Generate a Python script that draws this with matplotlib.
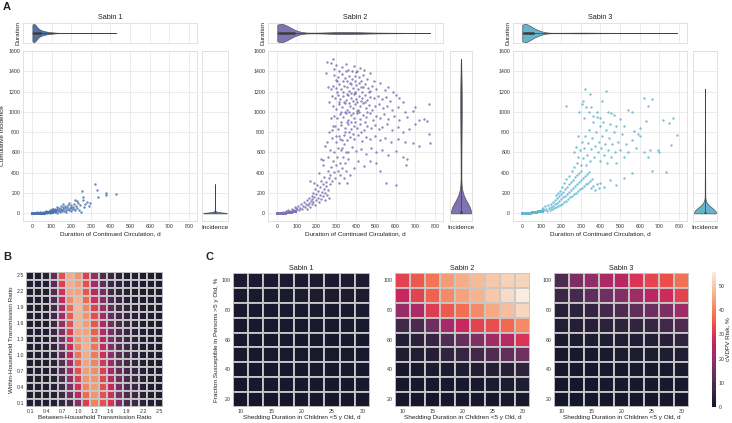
import numpy as np
import pandas as pd
import seaborn as sns
from matplotlib import pyplot as plt

# ---------------- data ----------------
# panel A: (duration d, cumulative incidence) for the runs that kept circulating
s1_pts = [(20,5),(25,10),(35,3),(40,12),(45,8),(55,15),(60,2),(65,12),(70,20),(75,6),(80,18),(85,25),
          (90,8),(95,20),(100,30),(105,10),(110,25),(115,35),(120,15),(125,30),(130,40),(130,8),(135,22),
          (140,35),(140,50),(145,15),(150,30),(150,45),(155,20),(160,40),(160,60),(165,28),(170,50),(175,18),
          (175,35),(180,65),(185,45),(190,30),(195,55),(200,80),(200,20),(205,40),(210,60),(215,95),(220,35),
          (220,130),(225,70),(230,50),(235,100),(240,30),(245,80),(250,10),(255,220),(258,160),(265,60),
          (270,90),(280,110),(290,75),(295,100),(320,288),(330,232),(335,160),(375,200),(378,178),(430,190),
          (160,95),(150,70),(130,60),(120,48),(110,45),(100,40),(90,35),(185,85),(190,100),(170,75),(200,65),
          (230,120),(212,45),(260,130)]
# dense clump near the origin: (duration, incidence, number of runs)
s1_core = [(3,0,240),(8,1,180),(15,1,140),(22,2,110),(30,3,90),(40,4,70),(50,5,56),(60,7,44),(70,9,32),
           (80,11,24),(90,13,18),(100,16,14),(110,19,10),(120,22,6)]

s2_pts = [(30,15),(45,25),(55,35),(65,20),(75,45),(85,30),(90,60),(95,50),(60,10),(40,5),
          # lower arm
          (100,40),(105,70),(110,30),(115,55),(120,90),(125,45),(130,75),(135,110),(140,60),(145,95),(150,130),
          (150,40),(155,80),(160,150),(160,105),(165,60),(170,125),(175,170),(175,90),(180,140),(185,200),
          (185,110),(190,160),(195,240),(195,80),(200,130),(200,190),(205,280),(210,150),(210,220),(215,110),
          (220,260),(220,180),(225,320),(225,140),(230,210),(235,290),(235,170),(240,360),(240,240),(245,130),
          (245,200),(250,310),(250,270),(255,180),(258,420),(260,230),(262,350),(265,150),(268,290),
          (165,320),(190,300),(225,540),(232,480),(215,400),(245,660),(235,530),
          # transition
          (270,380),(275,460),(280,320),(285,520),(290,410),(290,600),(295,350),(300,480),(300,700),(305,560),
          (310,420),(310,640),(315,300),(315,760),(320,500),(320,380),(325,620),(330,450),(330,720),(335,560),
          (340,350),(340,680),(345,500),(350,420),(350,600),(355,300),(360,540),(280,740),(270,620),(260,560),
          (255,700),(265,800),(285,860),(275,940),(265,1100),(258,1250),(250,1380),(255,1490),(275,1480),
          (285,1520),(290,1420),
          # main cloud
          (300,1460),(330,1440),(350,1470),(390,1450),(420,1430),(315,1400),(360,1410),(440,1410),(400,1390),
          (290,1360),(310,1340),(330,1370),(345,1330),(365,1355),(380,1320),(395,1350),(415,1340),(435,1360),
          (455,1325),(470,1380),(300,1310),(355,1300),(425,1305),(490,1300),
          (285,1260),(300,1240),(315,1275),(325,1230),(340,1260),(355,1245),(370,1280),(385,1235),(400,1265),
          (410,1225),(425,1250),(445,1270),(460,1240),(480,1260),(500,1230),(520,1280),(545,1215),(560,1250),
          (305,1200),(335,1195),(365,1210),(395,1190),(430,1200),(470,1205),(585,1200),(275,1230),
          (280,1160),(295,1140),(310,1170),(320,1130),(335,1155),(350,1120),(360,1165),(375,1140),(390,1175),
          (400,1125),(415,1155),(430,1135),(445,1165),(455,1120),(470,1150),(490,1140),(510,1160),(530,1130),
          (550,1150),(570,1110),(600,1170),(620,1140),(640,1100),
          (285,1060),(300,1030),(315,1075),(330,1045),(345,1085),(355,1020),(370,1060),(385,1035),(395,1080),
          (410,1015),(420,1055),(435,1090),(450,1040),(465,1070),(480,1020),(495,1055),(515,1080),(535,1035),
          (555,1060),(580,1020),(610,1050),(650,1000),(690,1010),(700,1050),(770,1080),
          (290,960),(305,935),(320,975),(335,945),(350,990),(360,925),(375,965),(390,940),(405,985),(420,930),
          (435,970),(450,945),(470,985),(485,925),(500,960),(520,940),(540,980),(560,930),(590,960),(620,920),
          (660,950),(700,880),(720,920),(745,930),(760,915),
          (295,860),(310,835),(325,875),(345,845),(360,880),(375,830),(390,865),(405,840),(420,885),(440,825),
          (455,860),(475,840),(495,870),(515,830),(530,855),(555,880),(580,820),(610,850),(640,800),(670,830),
          (280,820),(770,780),(775,690),
          (300,760),(320,730),(340,770),(355,720),(370,755),(390,735),(410,775),(430,715),(450,750),(470,730),
          (495,765),(520,720),(545,740),(575,705),(610,730),(650,700),(690,690),(720,660),
          (330,640),(360,600),(380,650),(400,610),(425,630),(450,590),(475,640),(500,600),(530,620),(560,580),
          (600,610),(640,560),(660,540),(655,480),(600,280),(550,300),(520,420),(500,500),(470,520),(440,470),
          (410,520),(390,450),(370,380),
          (340,1100),(355,1180),(365,1090),(375,1190),(385,1110),(395,1200),(405,1100),(345,1000),(365,1000),
          (385,990),(405,1010),(425,1110),(355,900),(375,1270),(395,1300),(415,1280),(335,1300),(325,900),
          (365,800),(385,780),(345,800),(425,800),(445,900),(455,1000),(445,1100),(465,1200),(325,1000),
          (315,1100),(305,1300),(375,900),(395,900),(415,1000),(435,1250),(405,1400),(380,1400),(350,1400)]
s2_core = [(2,0,200),(6,1,160),(12,2,135),(20,3,115),(30,5,95),(40,7,80),(50,9,65),(60,12,55),
           (70,16,45),(80,20,40),(90,25,35)]

s3_pts = [(100,40),(105,20),(110,55),(115,30),(120,70),(125,45),(130,25),(135,80),(140,55),(145,35),(150,95),
          (150,60),(155,40),(160,110),(160,75),(165,50),(170,130),(170,90),(175,60),(180,150),(180,105),
          (185,70),(190,170),(190,120),(195,85),(200,190),(200,140),(205,95),(210,210),(210,160),(215,110),
          (220,240),(220,175),(225,125),(230,260),(230,195),(235,140),(240,290),(240,215),(245,160),(250,310),
          (250,235),(255,175),(260,330),(260,255),(265,190),(270,360),(270,270),(275,205),(280,380),(280,290),
          (285,220),(290,400),(290,310),(295,240),(300,420),(300,330),(305,255),(310,350),(315,270),(320,370),
          (325,285),(330,390),(335,300),(340,410),(345,320),(350,250),(355,340),(360,270),(370,230),(380,290),
          (390,250),(400,300),(420,260),(450,330),(480,280),(520,350),(560,400),(215,300),(225,340),(205,260),
          (195,220),(185,200),(175,180),(240,370),(255,420),(265,460),(280,500),
          (285,560),(295,620),(300,480),(305,700),(310,550),(315,640),(320,760),(325,480),(330,580),(335,690),
          (340,820),(345,520),(350,630),(355,740),(360,900),(365,560),(370,660),(375,800),(380,950),(385,600),
          (390,700),(395,860),(400,520),(405,640),(410,760),(415,900),(420,580),(425,680),(430,820),(435,500),
          (440,620),(445,740),(450,880),(455,560),(460,680),(470,800),(475,600),(480,500),(490,700),(500,620),
          (510,780),(520,560),(530,680),(540,600),(560,720),(580,640),(600,760),(620,600),(650,620),(640,560),
          (660,420),(690,620),(700,600),(720,920),(735,410),(760,670),(790,770),(770,940),(750,890),(600,840),
          (620,1140),(640,1060),(660,1130),(630,910),(560,1000),(540,1020),(500,930),(470,970),(440,1000),
          (410,1110),(430,1210),(320,1230),(305,1080),(310,1110),(325,1050),(340,1000),(345,1180),(380,1000),
          (395,940),(360,960),(290,1000),(315,940),(225,1060),(350,1050),(455,990),(480,860),(520,860),
          (570,810),(590,780),(275,650),(265,600),(285,760)]
s3_core = [(2,0,240),(6,1,200),(12,2,170),(20,3,140),(30,5,120),(40,7,100),(50,9,84),(60,12,70),(70,15,56),
           (80,19,44),(90,23,36),(100,28,30)]

# panel B: relative cVDPV risk, rows = within-household ratio (top 2.5 -> bottom 0.1)
b_between = ["0.1","0.25","0.4","0.55","0.7","0.85","1.0","1.15","1.3","1.45","1.6","1.75","1.9","2.05","2.2","2.35","2.5"]
b_within = b_between[::-1]
b_risk = [
    [.04,.04,.06,.22,.60,.82,.76,.57,.35,.17,.12,.08,.05,.05,.04,.04,.04],
    [.04,.04,.05,.20,.56,.82,.78,.60,.40,.22,.12,.08,.06,.05,.04,.04,.04],
    [.04,.04,.05,.19,.52,.80,.80,.62,.45,.27,.14,.09,.06,.05,.04,.04,.04],
    [.04,.04,.05,.17,.48,.74,.84,.66,.51,.32,.17,.10,.07,.05,.04,.04,.04],
    [.04,.04,.05,.15,.44,.66,.86,.73,.57,.38,.22,.14,.10,.06,.05,.04,.04],
    [.04,.04,.05,.13,.40,.63,.85,.76,.60,.40,.24,.15,.10,.06,.05,.04,.04],
    [.04,.04,.04,.12,.36,.60,.84,.78,.62,.42,.26,.16,.11,.07,.05,.04,.04],
    [.04,.04,.04,.11,.32,.57,.80,.80,.64,.44,.28,.17,.11,.07,.05,.04,.04],
    [.04,.04,.04,.10,.28,.54,.76,.82,.66,.46,.30,.18,.12,.08,.05,.04,.04],
    [.04,.04,.04,.09,.25,.50,.72,.83,.68,.48,.32,.19,.13,.08,.05,.04,.04],
    [.04,.04,.04,.08,.22,.46,.68,.82,.70,.51,.34,.20,.13,.08,.05,.04,.04],
    [.04,.04,.04,.07,.20,.42,.64,.80,.72,.53,.36,.22,.14,.09,.06,.04,.04],
    [.04,.04,.04,.07,.18,.38,.60,.78,.74,.56,.40,.24,.15,.10,.06,.05,.04],
    [.04,.04,.04,.06,.16,.34,.56,.76,.76,.58,.44,.26,.16,.11,.07,.05,.04],
    [.04,.04,.04,.06,.14,.30,.52,.72,.78,.60,.48,.28,.17,.12,.07,.05,.04],
    [.04,.04,.04,.05,.12,.26,.45,.66,.76,.60,.51,.29,.17,.12,.07,.05,.04],
    [.04,.04,.04,.05,.10,.15,.33,.56,.72,.60,.53,.30,.17,.12,.08,.05,.04],
]

# panel C: cVDPV risk (%), rows = fraction susceptible >5 y (100 -> 20), cols = shedding duration
c_shed = [10, 12.5, 15, 17.5, 20, 22.5, 25, 27.5, 30]
c_susc = [100, 90, 80, 70, 60, 50, 40, 30, 20]
c_sabin1 = [
    [1.4,1.4,1.5,1.5,1.6,1.6,1.7,1.7,1.8],
    [1.2,1.2,1.3,1.3,1.4,1.4,1.5,1.5,1.6],
    [1.0,1.0,1.1,1.1,1.2,1.2,1.3,1.3,1.4],
    [0.9,0.9,0.9,1.0,1.0,1.0,1.1,1.1,1.2],
    [0.8,0.8,0.8,0.8,0.9,0.9,0.9,1.0,1.0],
    [0.7,0.7,0.7,0.7,0.8,0.8,0.8,0.8,0.9],
    [0.6,0.6,0.6,0.6,0.7,0.7,0.7,0.7,0.8],
    [0.5,0.5,0.5,0.5,0.6,0.6,0.6,0.6,0.7],
    [0.4,0.4,0.4,0.4,0.5,0.5,0.5,0.5,0.6],
]
c_sabin2 = [
    [32,35,38.5,43.5,46,48,50,51.5,52],
    [27,32,36,41,44.5,47,50,53,55.8],
    [20,23,31,35,37.5,41,45.5,48.5,52.5],
    [7,9,14,22,27,32,33.5,37,41],
    [2.5,4,6,10,13,17,21,24.5,30],
    [2,2.5,3,5,5.5,7,10,12,14.5],
    [1,1,1.5,1.5,2,2.5,3,3.5,4.5],
    [0.5,0.5,0.5,1,1,1,1.5,1.5,2],
    [0.3,0.3,0.3,0.5,0.5,0.5,0.5,1,1],
]
c_sabin3 = [
    [9.5,16.5,19.5,23,25,30,32.5,34,38],
    [6.5,8.5,12,14.5,17.5,21,25,28,32],
    [3.5,4.5,5.5,8,9.5,12,14,16.5,21],
    [2.5,3,3.5,4,4.5,5,6,7,9.5],
    [1.5,1.5,2,2,2.5,2.5,3,3.5,5],
    [1,1,1,1,1.5,1.5,1.5,2,2.5],
    [0.5,0.5,0.5,0.8,0.8,1,1,1,1.5],
    [0.3,0.3,0.3,0.5,0.5,0.5,0.5,0.8,0.8],
    [0.2,0.2,0.2,0.3,0.3,0.3,0.3,0.5,0.5],
]

# ---------------- style ----------------
sns.set_style("whitegrid")
plt.rcParams['font.family'] = ['Liberation Sans', 'DejaVu Sans']
plt.rcParams.update({'grid.color': '#e8e8e8', 'grid.linewidth': 0.6,
                     'axes.edgecolor': '#dddddd', 'axes.linewidth': 0.6,
                     'text.color': '#222222', 'axes.labelcolor': '#222222',
                     'xtick.color': '#333333', 'ytick.color': '#333333'})
TICK = 3.8
LAB = 4.6
TIT = 5.2
INNER = '#3c3c3c'

W, H = 732, 423
fig = plt.figure(figsize=(W / 100, H / 100), dpi=100)


def box(x0, y0, x1, y1):
    # pixel box measured from the top-left corner -> figure rect
    return [x0 / W, 1 - y1 / H, (x1 - x0) / W, (y1 - y0) / H]


def expand(pts, core):
    p = np.array(pts, dtype=float)
    c = np.array(core, dtype=float)
    n = c[:, 2].astype(int)
    dur = np.concatenate([np.repeat(c[:, 0], n), p[:, 0]])
    inc = np.concatenate([np.repeat(c[:, 1], n), p[:, 1]])
    return dur, inc


def inner_box(ax, v, horiz):
    q1, q3 = np.percentile(v, [25, 75])
    if horiz:
        ax.plot([v.min(), v.max()], [0, 0], color=INNER, lw=0.5, zorder=3)
        ax.plot([q1, q3], [0, 0], color=INNER, lw=1.8, solid_capstyle='butt', zorder=3)
    else:
        ax.plot([0, 0], [v.min(), v.max()], color=INNER, lw=0.5, zorder=3)
        ax.plot([0, 0], [q1, q3], color=INNER, lw=1.8, solid_capstyle='butt', zorder=3)


# ---------------- panel A ----------------
panels = [("Sabin 1", s1_pts, s1_core, '#4c72b0', (23, 197, 202, 228)),
          ("Sabin 2", s2_pts, s2_core, '#8172b3', (268, 443, 450, 472)),
          ("Sabin 3", s3_pts, s3_core, '#64b5cd', (513, 687, 693, 717))]

for k, (name, pts, core, col, (mx0, mx1, rx0, rx1)) in enumerate(panels):
    dur, inc = expand(pts, core)
    ax_top = fig.add_axes(box(mx0, 23, mx1, 43))
    ax = fig.add_axes(box(mx0, 51, mx1, 221))
    ax_r = fig.add_axes(box(rx0, 51, rx1, 221))

    ax.scatter(dur, inc, s=3, color=col, alpha=0.85, linewidths=0)
    ax.set_xlim(-45, 840)
    ax.set_ylim(-75, 1600)
    ax.set_xticks(range(0, 900, 100))
    ax.set_yticks(range(0, 1700, 200))
    ax.tick_params(length=0, pad=2, labelsize=TICK)
    ax.set_xlabel("Duration of Continued Circulation, d", fontsize=LAB, labelpad=1.5)
    if k == 0:
        ax.set_ylabel("Cumulative Incidence", fontsize=LAB, labelpad=2)

    sns.violinplot(x=dur, ax=ax_top, color=col, saturation=1, inner=None, cut=0,
                   linewidth=0.5, linecolor='#555555', width=0.95, bw_adjust=0.9)
    inner_box(ax_top, dur, True)
    ax_top.set_xlim(-45, 840)
    ax_top.set_xticks(range(0, 900, 100))
    ax_top.set_xticklabels([])
    ax_top.set_yticks([])
    ax_top.tick_params(length=0)
    ax_top.grid(True, axis='x')
    ax_top.set_ylabel("Duration", fontsize=LAB, labelpad=2)
    ax_top.set_title(name, fontsize=TIT, pad=3)

    sns.violinplot(y=inc, ax=ax_r, color=col, saturation=1, inner=None, cut=0,
                   linewidth=0.5, linecolor='#555555', width=0.95, bw_adjust=1.1)
    inner_box(ax_r, inc, False)
    ax_r.set_ylim(-75, 1600)
    ax_r.set_yticks(range(0, 1700, 200))
    ax_r.set_yticklabels([])
    ax_r.set_xticks([])
    ax_r.set_ylabel("")
    ax_r.tick_params(length=0)
    ax_r.grid(True, axis='y')
    ax_r.set_xlabel("Incidence", fontsize=LAB, labelpad=3)

# ---------------- panel B ----------------
ax_b = fig.add_axes(box(26, 272, 163, 407))
sns.heatmap(pd.DataFrame(b_risk, index=b_within, columns=b_between), ax=ax_b, cmap='rocket',
            vmin=0, vmax=1, cbar=False, linewidths=0.3, linecolor='#c8c8c8', alpha=0.93,
            xticklabels=2, yticklabels=2)
ax_b.tick_params(length=0, pad=1.5, labelsize=TICK)
ax_b.set_xticklabels(ax_b.get_xticklabels(), rotation=0)
ax_b.set_yticklabels(ax_b.get_yticklabels(), rotation=0)
ax_b.set_xlabel("Between-Household Transmission Ratio", fontsize=LAB, labelpad=1)
ax_b.set_ylabel("Within-Household Transmission Ratio", fontsize=LAB, labelpad=2)

# ---------------- panel C ----------------
cax = fig.add_axes(box(712, 272, 716, 407))
for k, (name, vals, (x0, x1)) in enumerate([("Sabin 1", c_sabin1, (233, 370)),
                                            ("Sabin 2", c_sabin2, (395, 530)),
                                            ("Sabin 3", c_sabin3, (554, 689))]):
    ax_c = fig.add_axes(box(x0, 273, x1, 407))
    df = pd.DataFrame(vals, index=c_susc, columns=c_shed)
    sns.heatmap(df, ax=ax_c, cmap='rocket', vmin=0, vmax=55.8, cbar=(k == 2),
                cbar_ax=cax if k == 2 else None, linewidths=0.3, linecolor='#c8c8c8', alpha=0.93,
                xticklabels=2, yticklabels=2)
    ax_c.set_xticklabels([f"{v:g}" for v in c_shed[::2]], rotation=0)
    ax_c.set_yticklabels([f"{v:g}" for v in c_susc[::2]], rotation=0)
    ax_c.tick_params(length=0, pad=1.5, labelsize=TICK)
    ax_c.set_title(name, fontsize=TIT, pad=2)
    ax_c.set_xlabel("Shedding Duration in Children <5 y Old, d", fontsize=LAB, labelpad=1)
    if k == 0:
        ax_c.set_ylabel("Fraction Susceptible in Persons >5 y Old, %", fontsize=LAB, labelpad=2)
    else:
        ax_c.set_ylabel("")

cax.set_yticks(range(0, 60, 10))
cax.tick_params(length=0, pad=2, labelsize=TICK)
cax.set_ylabel("cVDPV Risk, %", fontsize=LAB, labelpad=0.5)
cax.yaxis.set_label_position('right')
for s in cax.spines.values():
    s.set_visible(False)

# panel letters
fig.text(3 / W, 1 - 2 / H, "A", fontsize=8, fontweight='bold', va='top', ha='left')
fig.text(3 / W, 1 - 252 / H, "B", fontsize=8, fontweight='bold', va='top', ha='left')
fig.text(206 / W, 1 - 252 / H, "C", fontsize=8, fontweight='bold', va='top', ha='left')

fig.savefig("out.png", dpi=100)
